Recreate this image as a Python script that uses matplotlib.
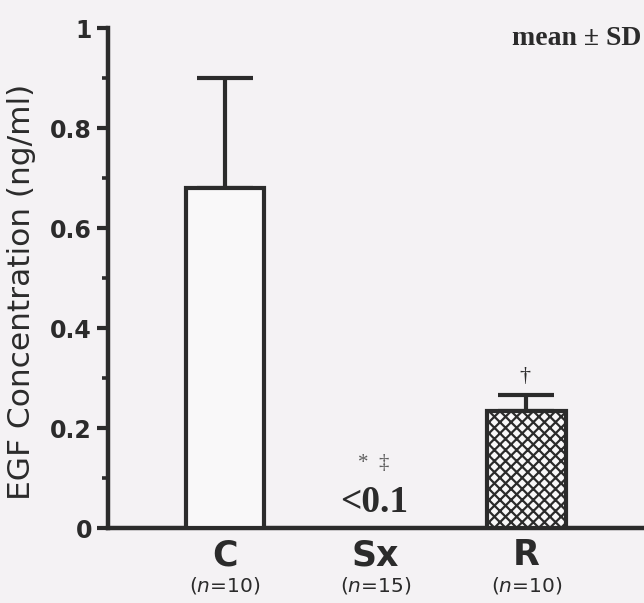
import numpy as np
import matplotlib.pyplot as plt

# EGF levels per group (ng/ml), upward SD only
groups = ["C", "Sx", "R"]
n_sizes = ["10", "15", "10"]
means = [0.68, 0.0, 0.235]
sds = [0.22, 0.0, 0.031]
hatches = ["", "", "xxx"]

bg = "#f4f2f4"
ink = "#2b2b2b"

plt.rcParams["hatch.linewidth"] = 1.6
plt.rcParams["hatch.color"] = ink
plt.rcParams["font.family"] = "DejaVu Sans"

fig = plt.figure(figsize=(6.44, 6.03), dpi=100, facecolor=bg)
ax = fig.add_axes([108 / 644, 1 - 528 / 603, 1 - 108 / 644, (528 - 28) / 603])
ax.set_facecolor(bg)

x = np.arange(len(groups))
for i in range(len(groups)):
    if means[i] <= 0:
        continue
    ax.bar(x[i], means[i], width=0.52, color="#f9f8f9", edgecolor=ink,
           linewidth=3.0, hatch=hatches[i], zorder=3)
    ax.errorbar(x[i], means[i], yerr=[[0], [sds[i]]], fmt="none", ecolor=ink,
                elinewidth=3.0, capsize=20, capthick=3.0, zorder=2)

ax.set_xlim(-0.775, 2.78)
ax.set_ylim(0, 1)

for s in ["top", "right"]:
    ax.spines[s].set_visible(False)
for s in ["left", "bottom"]:
    ax.spines[s].set_linewidth(3.2)
    ax.spines[s].set_color(ink)
    ax.spines[s].set_capstyle("projecting")

ax.set_yticks([0, 0.2, 0.4, 0.6, 0.8, 1.0])
ax.set_yticklabels(["0", "0.2", "0.4", "0.6", "0.8", "1"])
ax.set_yticks([0.1, 0.3, 0.5, 0.7, 0.9], minor=True)
ax.tick_params(axis="y", which="major", length=8, width=3.0, color=ink,
               labelsize=17, pad=3.5, labelcolor=ink)
ax.tick_params(axis="y", which="minor", length=4.5, width=2.6, color=ink)
for lab in ax.get_yticklabels():
    lab.set_fontweight("bold")

ax.set_xticks([])
for i in range(len(groups)):
    ax.text(x[i], -0.02, groups[i], ha="center", va="top", fontsize=25,
            fontweight="bold", color=ink)
    ax.text(x[i], -0.094, "($\\mathit{n}$=" + n_sizes[i] + ")", ha="center",
            va="top", fontsize=14.5, color=ink)

fig.text(22 / 644, 1 - 291.5 / 603, "EGF Concentration (ng/ml)", rotation=90,
         ha="center", va="center", fontsize=22.5, color=ink)

# below-detection label and significance marks
ax.text(x[1] - 0.01, 0.032, "<0.1", ha="center", va="baseline", fontsize=27,
        fontweight="bold", family="Liberation Serif", color=ink)
ax.text(x[1] - 0.01, 0.11, "*  \u2021", ha="center", va="bottom", fontsize=15,
        family="Liberation Serif", color="#5e5e5e")
ax.text(x[2] - 0.01, means[2] + sds[2] + 0.018, "\u2020", ha="center",
        va="bottom", fontsize=16, family="Liberation Serif", color=ink)

ax.text(2.765, 0.979, "mean \u00b1 SD", ha="right", va="center", fontsize=20,
        fontweight="bold", family="Liberation Serif", color=ink)

fig.savefig("out.png", dpi=100, facecolor=bg)
